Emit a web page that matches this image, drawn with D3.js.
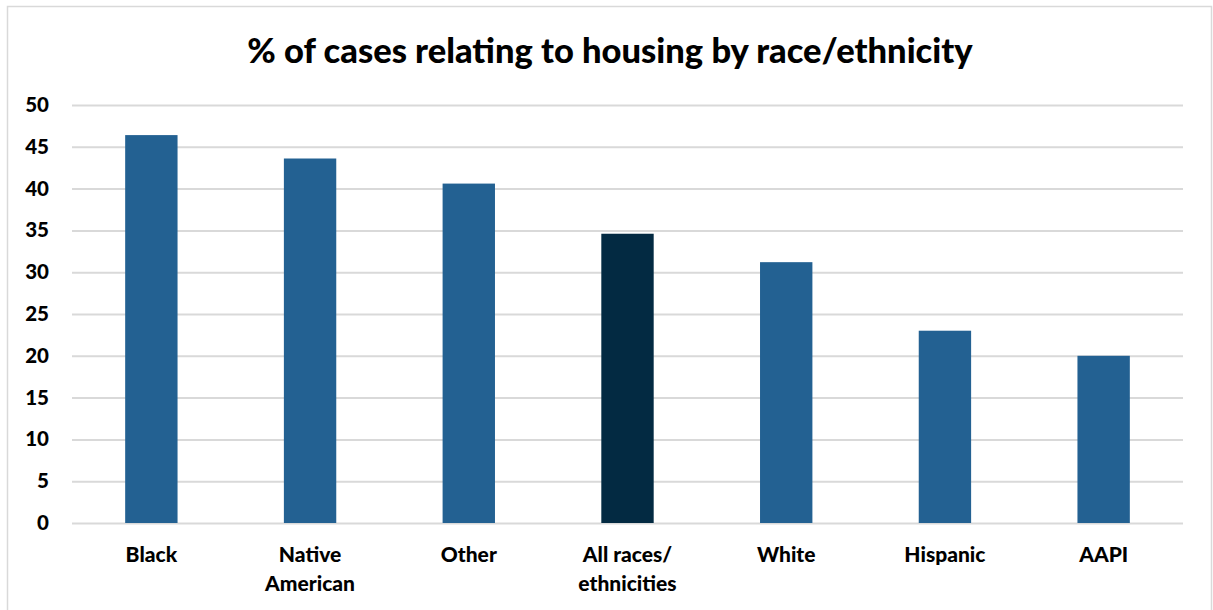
<!DOCTYPE html>
<html><head><meta charset="utf-8">
<script src="https://cdn.jsdelivr.net/npm/d3@7"></script>
<style>body{margin:0;background:#fff;}svg{display:block;}</style>
</head><body>
<script>
const categories = ["Black", "Native American", "Other", "All races/ ethnicities", "White", "Hispanic", "AAPI"];
const categoryLines = [["Black"], ["Native", "American"], ["Other"], ["All races/", "ethnicities"], ["White"], ["Hispanic"], ["AAPI"]];
const values = [46.4, 43.6, 40.6, 34.6, 31.2, 23.0, 20.0];
const highlight = ["All races/ ethnicities"];
const yTicks = [0, 5, 10, 15, 20, 25, 30, 35, 40, 45, 50];
const title = "% of cases relating to housing by race/ethnicity";

const W = 1213, H = 610;
const svg = d3.select("body").append("svg").attr("width", W).attr("height", H);
const font = "Lato, 'Open Sans', sans-serif";

svg.append("rect").attr("x", 7.5).attr("y", 6.5).attr("width", 1204).attr("height", 620)
  .attr("fill", "#fff").attr("stroke", "#d9d9d9").attr("stroke-width", 1.5);

const x = d3.scaleBand().domain(categories).range([72, 1183]).paddingInner(0.67).paddingOuter(0.335);
const y = d3.scaleLinear().domain([0, 50]).range([523, 105]);

svg.append("text").attr("x", 610).attr("y", 63).attr("text-anchor", "middle")
  .attr("font-family", font).attr("font-weight", 900).attr("font-size", 34.5)
  .attr("fill", "#000").text(title);

const gy = svg.append("g").attr("transform", "translate(72,0)")
  .call(d3.axisLeft(y).tickValues(yTicks).tickSize(-(1183 - 72)).tickPadding(23));
gy.select(".domain").remove();
gy.selectAll(".tick line").attr("stroke", "#d9d9d9").attr("stroke-width", 2);
gy.selectAll(".tick text").attr("font-family", font).attr("font-weight", 900)
  .attr("font-size", 20.5).attr("fill", "#000");

svg.append("g").selectAll("rect").data(categories).join("rect")
  .attr("x", d => x(d)).attr("width", x.bandwidth())
  .attr("y", (d, i) => y(values[i])).attr("height", (d, i) => y(0) - y(values[i]))
  .attr("fill", d => highlight.includes(d) ? "#032A42" : "#236192");

const gx = svg.append("g").attr("transform", "translate(0,523)")
  .call(d3.axisBottom(x).tickSize(0).tickFormat(""));
gx.select(".domain").remove();
gx.selectAll(".tick").each(function(d, i) {
  const t = d3.select(this).append("text").attr("y", 39).attr("text-anchor", "middle")
    .attr("font-family", font).attr("font-weight", 900).attr("font-size", 21).attr("fill", "#000");
  categoryLines[i].forEach((ln, j) => t.append("tspan").attr("x", 0).attr("dy", j === 0 ? 0 : 29).text(ln));
});
</script>
</body></html>
